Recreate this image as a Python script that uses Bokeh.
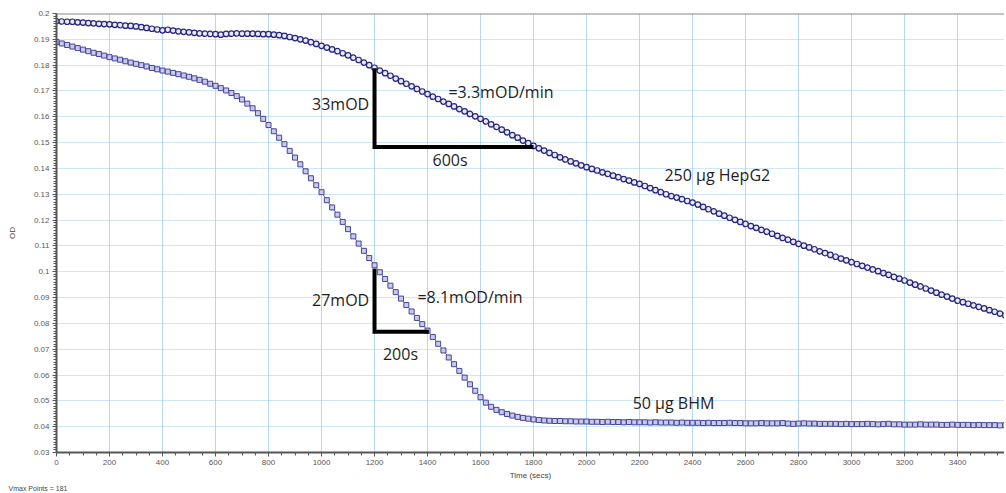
from bokeh.plotting import figure
from bokeh.models import Range1d, FixedTicker, CustomJSTickFormatter, Span, Label, Title
from bokeh.embed import file_html
from bokeh.resources import INLINE

# ---------------- data ----------------
time_s = list(range(0, 3601, 20))

hepg2_od = [
    0.1970, 0.1969, 0.1968, 0.1968, 0.1966, 0.1965,
    0.1963, 0.1962, 0.1960, 0.1959, 0.1958,
    0.1956, 0.1955, 0.1953, 0.1952, 0.1950,
    0.1947, 0.1944, 0.1941, 0.1938, 0.1935,
    0.1937, 0.1934, 0.1931, 0.1929, 0.1927,
    0.1925, 0.1923, 0.1922, 0.1921, 0.1920,
    0.1918, 0.1921, 0.1922, 0.1923, 0.1922,
    0.1922, 0.1922, 0.1921, 0.1920, 0.1920,
    0.1918, 0.1916, 0.1913, 0.1909, 0.1905,
    0.1900, 0.1895, 0.1889, 0.1882, 0.1875,
    0.1868, 0.1861, 0.1854, 0.1846, 0.1838,
    0.1829, 0.1820, 0.1810, 0.1800, 0.1790,
    0.1779, 0.1769, 0.1759, 0.1748, 0.1738,
    0.1728, 0.1718, 0.1708, 0.1698, 0.1688,
    0.1678, 0.1669, 0.1659, 0.1650, 0.1640,
    0.1630, 0.1621, 0.1611, 0.1602, 0.1592,
    0.1582, 0.1571, 0.1561, 0.1550, 0.1540,
    0.1529, 0.1519, 0.1508, 0.1498, 0.1487,
    0.1478, 0.1469, 0.1460, 0.1452, 0.1443,
    0.1435, 0.1427, 0.1420, 0.1412, 0.1405,
    0.1398, 0.1392, 0.1385, 0.1379, 0.1372,
    0.1366, 0.1359, 0.1353, 0.1346, 0.1340,
    0.1332, 0.1324, 0.1316, 0.1308, 0.1300,
    0.1293, 0.1287, 0.1281, 0.1274, 0.1268,
    0.1260, 0.1251, 0.1242, 0.1234, 0.1225,
    0.1217, 0.1209, 0.1201, 0.1193, 0.1185,
    0.1177, 0.1170, 0.1162, 0.1155, 0.1147,
    0.1139, 0.1131, 0.1124, 0.1116, 0.1108,
    0.1101, 0.1094, 0.1087, 0.1079, 0.1072,
    0.1065, 0.1058, 0.1051, 0.1044, 0.1037,
    0.1030, 0.1023, 0.1016, 0.1009, 0.1002,
    0.0995, 0.0988, 0.0980, 0.0973, 0.0966,
    0.0958, 0.0950, 0.0943, 0.0935, 0.0927,
    0.0919, 0.0911, 0.0904, 0.0896, 0.0888,
    0.0882, 0.0876, 0.0870, 0.0864, 0.0858,
    0.0851, 0.0845, 0.0838, 0.0831, 0.0824,
]

bhm_od = [
    0.1890, 0.1884, 0.1878, 0.1872, 0.1866, 0.1860,
    0.1854, 0.1848, 0.1843, 0.1837, 0.1831,
    0.1826, 0.1821, 0.1815, 0.1810, 0.1805,
    0.1800, 0.1795, 0.1789, 0.1784, 0.1779,
    0.1775, 0.1770, 0.1765, 0.1760, 0.1755,
    0.1749, 0.1743, 0.1736, 0.1728, 0.1720,
    0.1711, 0.1702, 0.1692, 0.1680, 0.1667,
    0.1651, 0.1633, 0.1614, 0.1592, 0.1568,
    0.1544, 0.1519, 0.1494, 0.1468, 0.1442,
    0.1416, 0.1389, 0.1362, 0.1335, 0.1308,
    0.1277, 0.1249, 0.1221, 0.1193, 0.1165,
    0.1137, 0.1109, 0.1081, 0.1053, 0.1025,
    0.0998, 0.0972, 0.0946, 0.0921, 0.0896,
    0.0871, 0.0846, 0.0821, 0.0797, 0.0772,
    0.0747, 0.0721, 0.0695, 0.0668, 0.0642,
    0.0616, 0.0590, 0.0564, 0.0539, 0.0514,
    0.0493, 0.0477, 0.0465, 0.0456, 0.0449,
    0.0443, 0.0438, 0.0434, 0.0431, 0.0428,
    0.0426, 0.0424, 0.0423, 0.0422, 0.0422,
    0.0421, 0.0421, 0.0420, 0.0420, 0.0420,
    0.0419, 0.0419, 0.0418, 0.0419, 0.0418,
    0.0418, 0.0417, 0.0418, 0.0417, 0.0417,
    0.0417, 0.0416, 0.0417, 0.0416, 0.0416,
    0.0416, 0.0415, 0.0416, 0.0415, 0.0415,
    0.0415, 0.0414, 0.0415, 0.0414, 0.0414,
    0.0414, 0.0415, 0.0414, 0.0414, 0.0413,
    0.0413, 0.0413, 0.0414, 0.0413, 0.0413,
    0.0413, 0.0414, 0.0412, 0.0411, 0.0412,
    0.0413, 0.0412, 0.0412, 0.0411, 0.0411,
    0.0411, 0.0411, 0.0410, 0.0411, 0.0410,
    0.0410, 0.0410, 0.0411, 0.0410, 0.0409,
    0.0410, 0.0411, 0.0409, 0.0409, 0.0408,
    0.0408, 0.0408, 0.0409, 0.0408, 0.0408,
    0.0408, 0.0407, 0.0407, 0.0408, 0.0407,
    0.0407, 0.0407, 0.0406, 0.0407, 0.0406,
    0.0406, 0.0406, 0.0405, 0.0406, 0.0405,
]

x_ticks = [0, 200, 400, 600, 800, 1000, 1200, 1400, 1600, 1800, 2000,
           2200, 2400, 2600, 2800, 3000, 3200, 3400, 3600]
y_ticks = [0.03, 0.04, 0.05, 0.06, 0.07, 0.08, 0.09, 0.10, 0.11, 0.12,
           0.13, 0.14, 0.15, 0.16, 0.17, 0.18, 0.19, 0.20]

# slope triangles (annotations)
hep_slope_t = [1200, 1200, 1800]
hep_slope_od = [0.1788, 0.1483, 0.1483]
bhm_slope_t = [1200, 1200, 1405]
bhm_slope_od = [0.1012, 0.0768, 0.0768]

# ---------------- figure ----------------
p = figure(width=1004, height=491, output_backend="svg", toolbar_location=None,
           x_range=Range1d(0, 3577), y_range=Range1d(0.03, 0.2),
           min_border_left=56, min_border_top=13, min_border_right=0,
           min_border_bottom=39)
p.background_fill_color = "white"
p.border_fill_color = "white"
p.outline_line_color = None

# grids
p.xgrid.grid_line_color = "#b3d7f5"
p.xgrid.grid_line_width = 1
p.ygrid.grid_line_color = "#9fcbf0"
p.ygrid.grid_line_dash = "1 1"
p.ygrid.grid_line_width = 1

# axes
p.xaxis.ticker = FixedTicker(ticks=x_ticks, minor_ticks=list(range(0, 3601, 50)))
p.yaxis.ticker = FixedTicker(ticks=y_ticks,
                             minor_ticks=[round(0.03 + 0.001 * i, 3) for i in range(171)])
p.yaxis.formatter = CustomJSTickFormatter(code="return (Math.round(tick*100)/100).toString();")
for ax in (p.xaxis[0], p.yaxis[0]):
    ax.axis_line_color = "#555555"
    ax.axis_line_width = 2
    ax.major_tick_line_color = "#555555"
    ax.minor_tick_line_color = "#555555"
    ax.major_tick_out = 4
    ax.major_tick_in = 0
    ax.minor_tick_out = 3
    ax.minor_tick_in = 0
    ax.major_label_text_font = "Liberation Sans"
    ax.major_label_text_font_size = "8px"
    ax.major_label_text_color = "#5e5656"
    ax.axis_label_text_font = "Liberation Sans"
    ax.axis_label_text_font_size = "8px"
    ax.axis_label_text_font_style = "normal"
    ax.axis_label_text_color = "#444444"
    ax.major_label_standoff = 3
p.xaxis.axis_label = "Time (secs)"
p.xaxis.axis_label_standoff = 3
p.yaxis.axis_label = "OD"
p.yaxis.axis_label_standoff = 14

p.add_layout(Title(text="Vmax Points = 181", align="left", offset=-48,
                   text_font="Liberation Sans", text_font_size="7px",
                   text_font_style="normal", text_color="#444444",
                   standoff=0), "below")

# top border
p.add_layout(Span(location=0.2, dimension="width", line_color="#888888", line_width=2))

# series
p.line(time_s, hepg2_od, line_color="#5a5aa8", line_width=1)
p.scatter(time_s, hepg2_od, marker="circle", size=5.5, line_color="#26267c",
          line_width=1.2, fill_color="#e8e8f6")
p.line(time_s, bhm_od, line_color="#6a6ab4", line_width=1)
p.scatter(time_s, bhm_od, marker="square", size=5, line_color="#45459a",
          line_width=1, fill_color="#c9c9ea")

# slope triangles
p.line(hep_slope_t, hep_slope_od, line_color="black", line_width=4, line_join="miter")
p.line(bhm_slope_t, bhm_slope_od, line_color="black", line_width=4, line_join="miter")

def lab(x, y, text, align="left", size="16px"):
    p.add_layout(Label(x=x, y=y, text=text, text_align=align, text_baseline="middle",
                       text_font="Open Sans", text_font_size=size, text_color="#1e1e1e"))

lab(1180, 0.1651, "33mOD", "right")
lab(1479, 0.1695, "=3.3mOD/min")
lab(1485, 0.1431, "600s", "center")
lab(2294, 0.1373, "250 µg HepG2")
lab(1180, 0.0889, "27mOD", "right")
lab(1362, 0.0901, "=8.1mOD/min")
lab(1298, 0.0683, "200s", "center")
lab(2174, 0.0490, "50 µg BHM")

open("out.html", "w").write(file_html(p, INLINE))
